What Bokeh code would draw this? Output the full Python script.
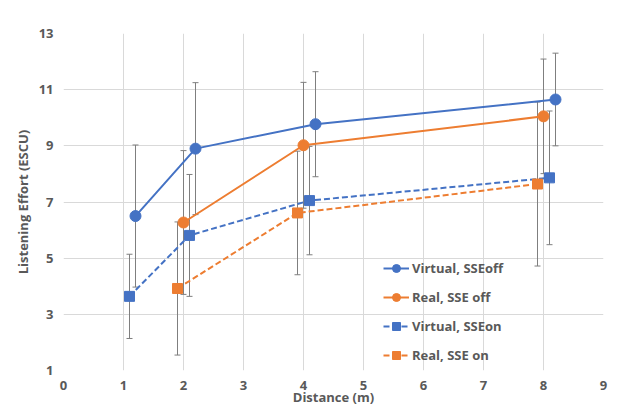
from bokeh.plotting import figure
from bokeh.models import ColumnDataSource, Whisker, TeeHead, Legend, LegendItem, FixedTicker
from bokeh.embed import file_html
from bokeh.resources import INLINE

# Data
virt_off_x = [1.2, 2.2, 4.2, 8.2]
virt_off_y = [6.5, 8.9, 9.77, 10.65]
virt_off_e = [2.53, 2.35, 1.87, 1.65]

real_off_x = [2.0, 4.0, 8.0]
real_off_y = [6.27, 9.02, 10.05]
real_off_e = [2.56, 2.24, 2.04]

virt_on_x = [1.1, 2.1, 4.1, 8.1]
virt_on_y = [3.64, 5.81, 7.05, 7.86]
virt_on_e = [1.5, 2.17, 1.93, 2.38]

real_on_x = [1.9, 3.9, 7.9]
real_on_y = [3.92, 6.61, 7.64]
real_on_e = [2.37, 2.2, 2.92]

x_ticks = [0, 1, 2, 3, 4, 5, 6, 7, 8, 9]
y_ticks = [1, 3, 5, 7, 9, 11, 13]

BLUE = "#4472C4"
ORANGE = "#ED7D31"
GRAY_TXT = "#595959"
FONT = "Open Sans"

p = figure(width=613, height=411, x_range=(0, 9), y_range=(1, 13),
           output_backend="svg", toolbar_location=None,
           min_border_left=63, min_border_right=10, min_border_top=33, min_border_bottom=41)
p.outline_line_color = None
p.background_fill_color = "white"

p.xaxis.ticker = FixedTicker(ticks=x_ticks)
p.yaxis.ticker = FixedTicker(ticks=y_ticks)
for ax in (p.xaxis, p.yaxis):
    ax.axis_line_color = None
    ax.major_tick_line_color = None
    ax.minor_tick_line_color = None
    ax.major_tick_out = 0
    ax.major_label_text_font = FONT
    ax.major_label_text_font_style = "bold"
    ax.major_label_text_font_size = "13px"
    ax.major_label_text_color = GRAY_TXT
    ax.axis_label_text_font = FONT
    ax.axis_label_text_font_style = "bold"
    ax.axis_label_text_font_size = "13px"
    ax.axis_label_text_color = GRAY_TXT
p.xaxis.major_label_standoff = 10
p.yaxis.major_label_standoff = 10
p.xaxis.axis_label = "Distance (m)"
p.xaxis.axis_label_standoff = -5
p.yaxis.axis_label = "Listening Effort (ESCU)"
p.yaxis.axis_label_standoff = 4

p.xgrid.grid_line_color = "#D9D9D9"
p.ygrid.grid_line_color = "#D9D9D9"

series = [
    ("Virtual, SSEoff", virt_off_x, virt_off_y, virt_off_e, BLUE, "solid", "circle", 11),
    ("Real, SSE off", real_off_x, real_off_y, real_off_e, ORANGE, "solid", "circle", 11),
    ("Virtual, SSEon", virt_on_x, virt_on_y, virt_on_e, BLUE, "6 3", "square", 10),
    ("Real, SSE on", real_on_x, real_on_y, real_on_e, ORANGE, "6 3", "square", 10),
]

items = []
for name, xs, ys, es, col, dash, marker, size in series:
    src = ColumnDataSource(dict(x=xs, y=ys,
                                lo=[y - e for y, e in zip(ys, es)],
                                hi=[y + e for y, e in zip(ys, es)]))
    w = Whisker(source=src, base="x", upper="hi", lower="lo",
                line_color="#7F7F7F", line_width=1,
                upper_head=TeeHead(size=6, line_color="#7F7F7F", line_width=1),
                lower_head=TeeHead(size=6, line_color="#7F7F7F", line_width=1))
    p.add_layout(w)
    lr = p.line("x", "y", source=src, line_color=col, line_width=2, line_dash=dash)
    sr = p.scatter("x", "y", source=src, marker=marker, size=size,
                   fill_color=col, line_color=col)
    items.append(LegendItem(label=name, renderers=[lr, sr]))

legend = Legend(items=items, location=(320, 5), padding=0, margin=0,
                spacing=9, glyph_width=26, glyph_height=20, label_height=20,
                label_standoff=3,
                label_text_font=FONT, label_text_font_size="13px",
                label_text_font_style="bold", label_text_color=GRAY_TXT,
                background_fill_alpha=0, border_line_color=None)
p.add_layout(legend, "center")

open("out.html", "w").write(file_html(p, INLINE))
